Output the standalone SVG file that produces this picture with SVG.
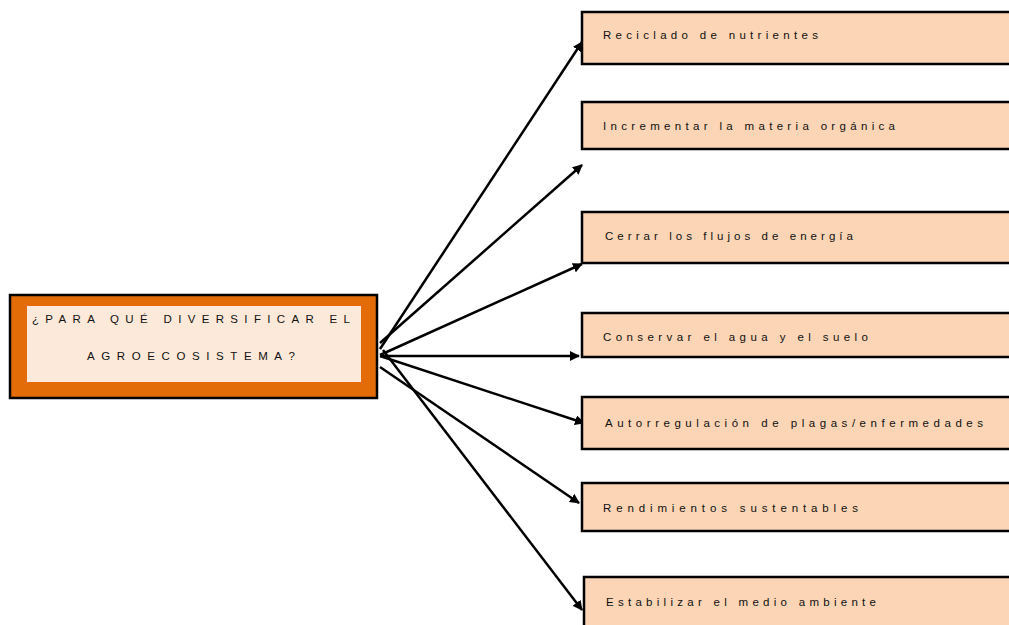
<svg xmlns="http://www.w3.org/2000/svg" width="1009" height="625" viewBox="0 0 1009 625">
<style>
.box{fill:#FBD5B5;stroke:#000;stroke-width:2.5}
.t{font-family:"Liberation Sans",Arial,sans-serif;font-size:11.5px;fill:#111}
.c{stroke:#000;stroke-width:2.5;fill:none;marker-end:url(#ah)}
</style>
<defs>
<marker id="ah" viewBox="0 0 10 10" refX="9" refY="5" markerWidth="10" markerHeight="10" markerUnits="userSpaceOnUse" orient="auto">
<path d="M0,0 L10,5 L0,10 z" fill="#000"/>
</marker>
</defs>
<rect width="1009" height="625" fill="#fff"/>
<g id="connectors">
<line class="c" x1="380" y1="349" x2="582" y2="42"/>
<line class="c" x1="380" y1="343" x2="582" y2="165"/>
<line class="c" x1="380" y1="355" x2="582" y2="264"/>
<line class="c" x1="380" y1="356" x2="579" y2="356"/>
<line class="c" x1="380" y1="356" x2="584" y2="423"/>
<line class="c" x1="380" y1="367" x2="579" y2="503"/>
<line class="c" x1="383" y1="350" x2="582" y2="610"/>
</g>
<g id="center">
<rect x="10" y="295" width="367" height="103" fill="#E36C09" stroke="#000" stroke-width="2.5"/>
<rect x="27" y="306" width="334" height="76" fill="#FDE9D9"/>
<text class="t" x="32" y="323" textLength="318" lengthAdjust="spacing">¿PARA QUÉ DIVERSIFICAR EL</text>
<text class="t" x="87" y="360" textLength="208" lengthAdjust="spacing">AGROECOSISTEMA?</text>
</g>
<g id="n1"><rect class="box" x="582" y="12" width="432" height="52"/><text class="t" x="603" y="39" textLength="215" lengthAdjust="spacing">Reciclado de nutrientes</text></g>
<g id="n2"><rect class="box" x="582" y="102" width="432" height="47"/><text class="t" x="603" y="130" textLength="292" lengthAdjust="spacing">Incrementar la materia orgánica</text></g>
<g id="n3"><rect class="box" x="582" y="212" width="432" height="51"/><text class="t" x="605" y="240" textLength="248" lengthAdjust="spacing">Cerrar los flujos de energía</text></g>
<g id="n4"><rect class="box" x="582" y="313" width="432" height="44"/><text class="t" x="603" y="341" textLength="265" lengthAdjust="spacing">Conservar el agua y el suelo</text></g>
<g id="n5"><rect class="box" x="582" y="397" width="432" height="52"/><text class="t" x="605" y="427" textLength="378" lengthAdjust="spacing">Autorregulación de plagas/enfermedades</text></g>
<g id="n6"><rect class="box" x="582" y="483" width="432" height="48"/><text class="t" x="603" y="512" textLength="255" lengthAdjust="spacing">Rendimientos sustentables</text></g>
<g id="n7"><rect class="box" x="584" y="577" width="432" height="60"/><text class="t" x="606" y="606" textLength="270" lengthAdjust="spacing">Estabilizar el medio ambiente</text></g>
</svg>
